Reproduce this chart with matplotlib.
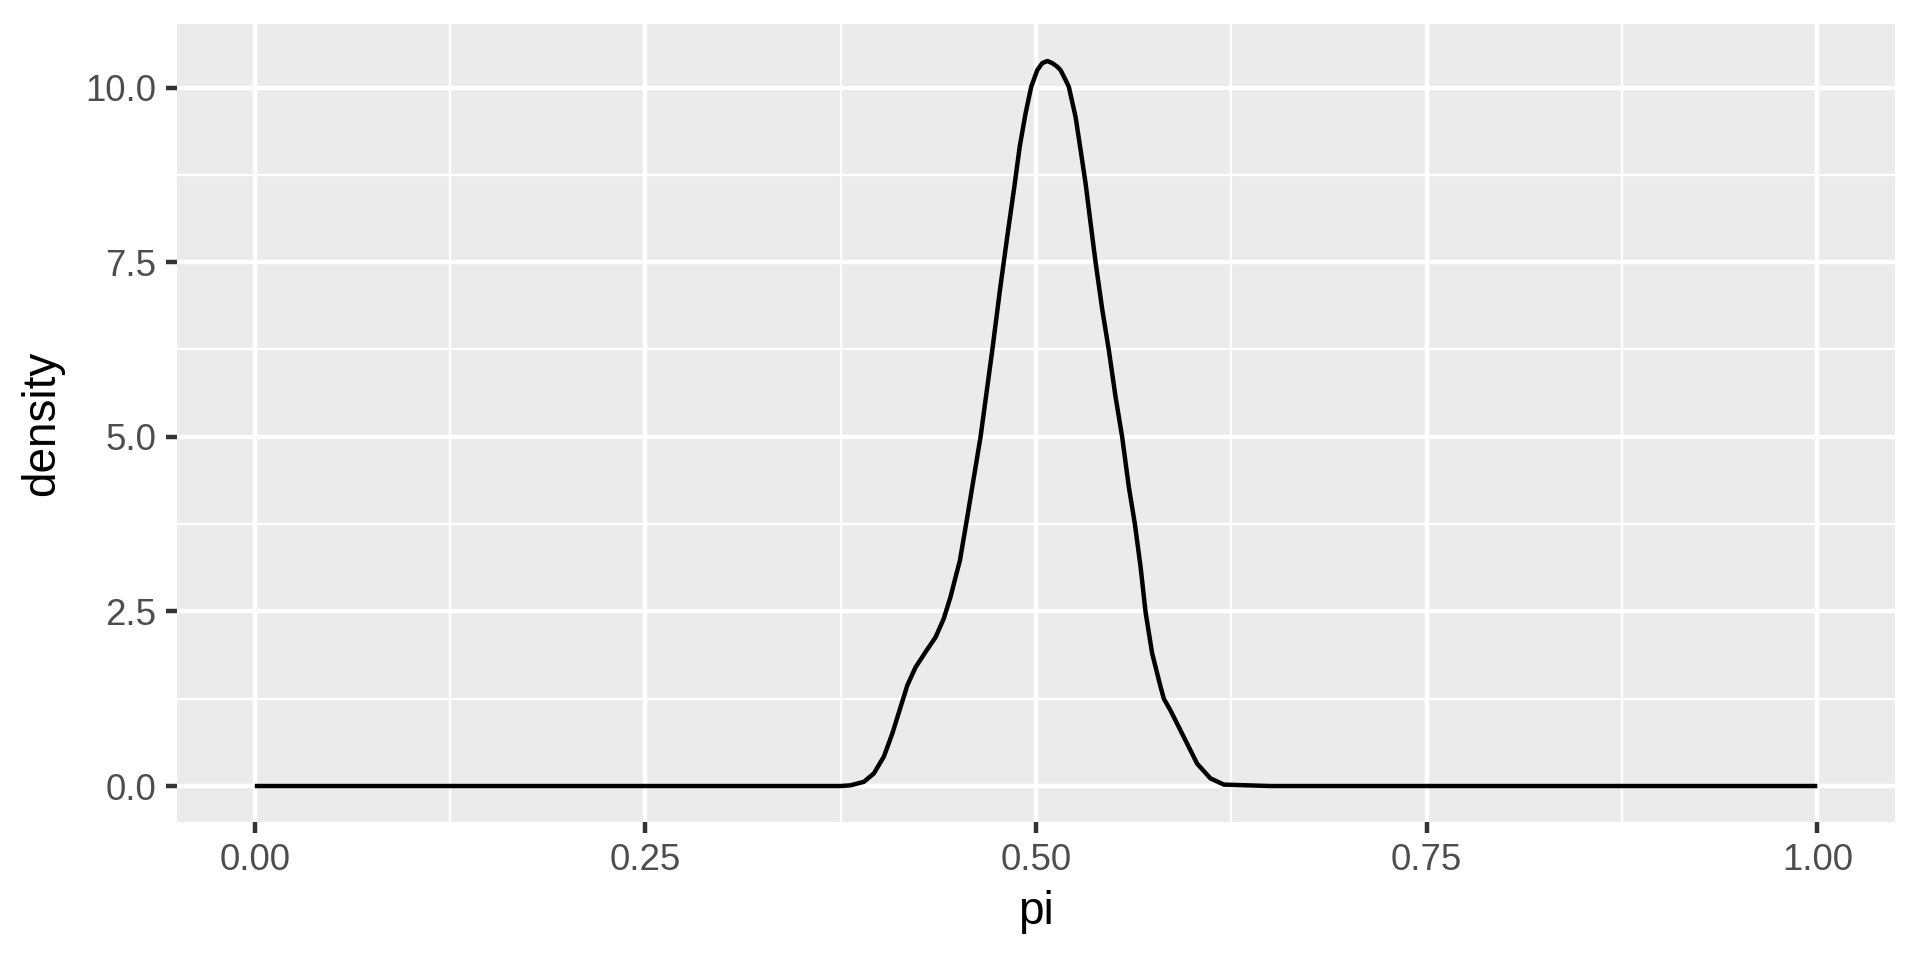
import matplotlib
matplotlib.use("Agg")
from matplotlib import pyplot as plt
from matplotlib.ticker import MultipleLocator

# density of pi
pi_vals = [
    0.0, 0.30, 0.36, 0.375, 0.3813, 0.3898, 0.3962, 0.4026, 0.408, 0.4133,
    0.4176, 0.4229, 0.4293, 0.4357, 0.441, 0.4453, 0.4485, 0.4513, 0.456,
    0.4645, 0.472, 0.4769, 0.4816, 0.4858, 0.4896, 0.4933, 0.4969, 0.5008,
    0.504, 0.5072, 0.5104, 0.5135, 0.5157, 0.5189, 0.521, 0.5253, 0.5285,
    0.5317, 0.5349, 0.5381, 0.5424, 0.5466, 0.5509, 0.5551, 0.5594, 0.5632,
    0.5669, 0.5701, 0.5743, 0.5797, 0.5818, 0.5861, 0.5946, 0.6031, 0.6116,
    0.6202, 0.65, 1.0,
]
density = [
    0.0, 0.0, 0.0, 0.0, 0.01, 0.06, 0.18, 0.42, 0.75, 1.13,
    1.44, 1.70, 1.92, 2.13, 2.40, 2.71, 2.99, 3.23, 3.85,
    5.0, 6.24, 7.10, 7.87, 8.53, 9.16, 9.63, 10.01, 10.25,
    10.35, 10.38, 10.35, 10.30, 10.25, 10.11, 10.01, 9.58, 9.11,
    8.63, 8.06, 7.50, 6.82, 6.24, 5.57, 5.0, 4.28, 3.76,
    3.14, 2.49, 1.90, 1.42, 1.25, 1.08, 0.70, 0.32, 0.11,
    0.02, 0.0, 0.0,
]

x_ticks = [0.0, 0.25, 0.5, 0.75, 1.0]
x_labels = ["0.00", "0.25", "0.50", "0.75", "1.00"]
y_ticks = [0.0, 2.5, 5.0, 7.5, 10.0]
y_labels = ["0.0", "2.5", "5.0", "7.5", "10.0"]

plt.rcParams["font.family"] = ["Liberation Sans", "DejaVu Sans"]

fig = plt.figure(figsize=(6.4, 3.2), dpi=300)
ax = fig.add_axes([0.092, 0.1434, 0.8952, 0.8316])
ax.set_facecolor("#EBEBEB")
for s in ax.spines.values():
    s.set_visible(False)

ax.plot(pi_vals, density, color="black", linewidth=1.07,
        solid_joinstyle="round", solid_capstyle="butt", zorder=3)

ax.set_xlim(-0.05, 1.05)
ax.set_ylim(-0.52, 10.91)

ax.set_xticks(x_ticks)
ax.set_xticklabels(x_labels)
ax.set_yticks(y_ticks)
ax.set_yticklabels(y_labels)
ax.xaxis.set_minor_locator(MultipleLocator(0.125))
ax.yaxis.set_minor_locator(MultipleLocator(1.25))

ax.grid(which="major", color="white", linewidth=1.07)
ax.grid(which="minor", color="white", linewidth=0.53)
ax.set_axisbelow(True)

ax.tick_params(which="major", length=2.75, width=1.07, color="#333333",
               labelsize=8.8, labelcolor="#4D4D4D", pad=2.2)
ax.tick_params(which="minor", length=0)

ax.set_xlabel("pi", fontsize=11, color="black", labelpad=3)
ax.set_ylabel("density", fontsize=11, color="black", labelpad=5)

fig.savefig("out.png", dpi=300, facecolor="white")
